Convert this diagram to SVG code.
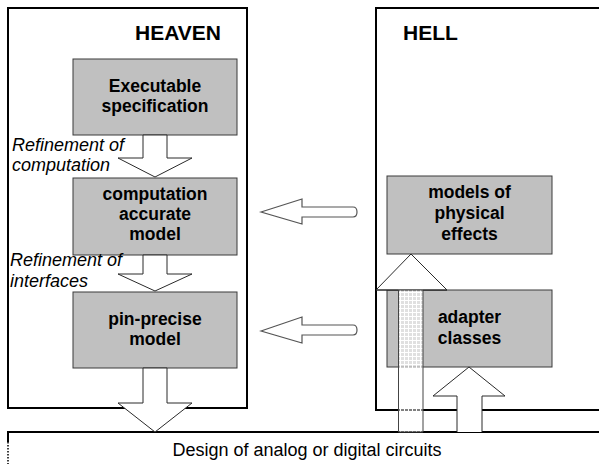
<svg xmlns="http://www.w3.org/2000/svg" width="599" height="464" viewBox="0 0 599 464">
  <style>
    .frame { fill: none; stroke: #000; stroke-width: 2; }
    .box { fill: #c0c0c0; stroke: #3a3a3a; stroke-width: 1; }
    .lbl { font-family: "Liberation Sans", Arial, sans-serif; font-weight: bold; font-size: 17.5px; fill: #000; text-anchor: middle; }
    .title { font-family: "Liberation Sans", Arial, sans-serif; font-weight: bold; font-size: 21px; fill: #000; }
    .note { font-family: "Liberation Sans", Arial, sans-serif; font-style: italic; font-size: 18px; fill: #000; }
    .arrow { fill: #fff; stroke: #2a2a2a; stroke-width: 1; }
    .side { fill: #fff; stroke: #555; stroke-width: 1.2; }
  </style>
  <defs>
    <pattern id="grid" width="4" height="4" patternUnits="userSpaceOnUse">
      <rect width="4" height="4" fill="#fff" fill-opacity="0.5"/>
      <path d="M0,0.5 H4 M0.5,0 V4" stroke="#fff" stroke-width="1"/>
    </pattern>
  </defs>

  <rect width="599" height="464" fill="#fff"/>

  <!-- realm frames -->
  <g id="heaven">
    <rect class="frame" x="8" y="8" width="239" height="400"/>
    <text class="title" x="135" y="40">HEAVEN</text>
  </g>
  <g id="hell">
    <path class="frame" d="M605,8 H376 V410 H605"/>
    <text class="title" x="403" y="40">HELL</text>
  </g>

  <!-- target layer -->
  <g id="circuits">
    <path d="M8,432 H605" stroke="#000" stroke-width="2" fill="none"/>
    <path d="M8,431 V442" stroke="#000" stroke-width="2" fill="none"/>
    <path d="M8,442 V464" stroke="#000" stroke-width="1.5" stroke-dasharray="1.5,1.5" fill="none"/>
    <text x="307" y="456" font-family="Liberation Sans, Arial, sans-serif" font-size="18" text-anchor="middle">Design of analog or digital circuits</text>
  </g>

  <!-- model boxes -->
  <g id="exec-spec">
    <rect class="box" x="73" y="59" width="164" height="76"/>
    <text class="lbl" x="155" y="92">Executable</text>
    <text class="lbl" x="155" y="112">specification</text>
  </g>
  <g id="computation-model">
    <rect class="box" x="73" y="178" width="164" height="77"/>
    <text class="lbl" x="155" y="200">computation</text>
    <text class="lbl" x="155" y="220">accurate</text>
    <text class="lbl" x="155" y="240">model</text>
  </g>
  <g id="pin-precise">
    <rect class="box" x="73" y="292" width="164" height="76"/>
    <text class="lbl" x="155" y="325">pin-precise</text>
    <text class="lbl" x="155" y="345">model</text>
  </g>
  <g id="physical-effects">
    <rect class="box" x="387" y="176" width="165" height="78"/>
    <text class="lbl" x="469.5" y="198">models of</text>
    <text class="lbl" x="469.5" y="219">physical</text>
    <text class="lbl" x="469.5" y="240">effects</text>
  </g>
  <g id="adapter-classes">
    <rect class="box" x="387" y="290" width="165" height="77"/>
    <text class="lbl" x="469.5" y="323">adapter</text>
    <text class="lbl" x="469.5" y="344">classes</text>
  </g>

  <!-- refinement labels -->
  <g id="labels">
    <text class="note" x="12" y="151">Refinement of</text>
    <text class="note" x="12" y="171">computation</text>
    <text class="note" x="10" y="266">Refinement of</text>
    <text class="note" x="10" y="287">interfaces</text>
  </g>

  <!-- block arrows -->
  <g id="connectors">
    <path class="arrow" d="M143,135 V158 H118 L155,177 L192,158 H167 V135 Z"/>
    <path class="arrow" d="M143,255 V274 H118 L155,291 L192,274 H167 V255 Z"/>
    <path class="arrow" d="M143,368 V403 H118 L155,432 L192,403 H167 V368 Z"/>

    <path class="side" d="M261,212 L302,199 V207 H353 Q357,207 357,212 Q357,217 353,217 H302 V224 Z"/>
    <path class="side" d="M261,331 L302,317 V325 H353 Q357,325 357,330 Q357,335 353,335 H302 V343 Z"/>

    <path class="arrow" d="M376,290 L411,254 L447,290 Z"/>
    <path d="M398.5,290 V432 H423 V290 Z" fill="url(#grid)" stroke="#444" stroke-width="1"/>
    <path d="M376,290 H398.5 M423,290 H447" stroke="#2a2a2a" stroke-width="1"/>

    <path class="arrow" d="M457,432 V396 H433 L469,367 L505,396 H482 V432"/>
  </g>
</svg>
